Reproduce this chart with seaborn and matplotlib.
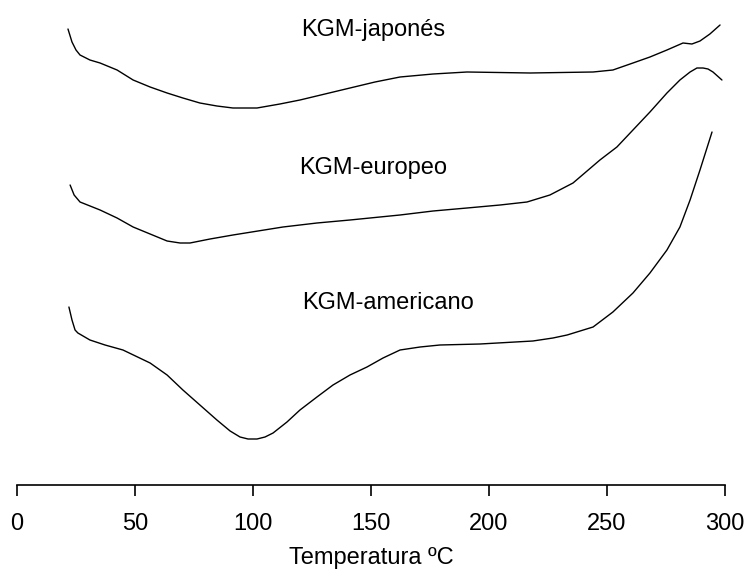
import matplotlib
matplotlib.use("Agg")
import matplotlib.pyplot as plt
import seaborn as sns
import pandas as pd

# Temperatura (ºC) and signal (arbitrary units, height above baseline)
temp_japones = [21.6, 23.3, 25.0, 26.7, 30.9, 35.2, 42.4, 49.2, 56.4, 63.6, 70.3, 77.5,
                84.7, 91.5, 101.7, 111.4, 119.9, 130.5, 141.1, 151.7, 162.3, 176.3,
                190.7, 217.4, 244.1, 252.5, 261.0, 268.2, 275.4, 282.2, 286.0, 289.4,
                293.6, 297.9]
sig_japones = [456, 443, 435, 430, 425, 422, 415, 405, 398, 392, 387, 382,
               379, 377, 377, 381, 385, 391, 397, 403, 408, 411,
               413, 412, 413, 415, 422, 428, 435, 442, 441, 444,
               451, 460]

temp_europeo = [22.5, 24.2, 26.7, 35.2, 42.4, 49.2, 56.4, 63.6, 69.1, 73.3, 81.8, 91.5,
                102.1, 112.7, 127.1, 141.1, 162.3, 176.3, 190.7, 204.7, 216.1, 225.8,
                235.6, 247.0, 254.2, 261.0, 268.2, 275.4, 280.9, 285.2, 288.1, 290.7,
                292.8, 294.9, 298.7]
sig_europeo = [300, 290, 283, 275, 267, 258, 251, 244, 242, 242, 246, 250,
               254, 258, 262, 265, 270, 274, 277, 280, 283, 290,
               302, 325, 338, 355, 373, 392, 405, 413, 417, 417,
               416, 413, 405]

temp_americano = [22.0, 23.3, 24.6, 25.8, 30.9, 37.3, 44.9, 56.4, 63.6, 70.3, 77.5, 84.7,
                  90.3, 94.5, 97.9, 101.7, 105.1, 108.5, 114.4, 119.9, 127.1, 133.9,
                  141.1, 148.3, 155.1, 162.3, 170.8, 179.2, 196.2, 218.6, 227.1, 233.1,
                  238.6, 244.1, 252.5, 261.0, 268.2, 275.4, 280.9, 285.2, 289.4, 294.5]
sig_americano = [178, 165, 155, 152, 145, 140, 135, 122, 110, 95, 80, 65,
                 54, 48, 46, 46, 48, 52, 63, 75, 88, 100,
                 110, 118, 127, 135, 138, 140, 141, 144, 147, 150,
                 154, 158, 173, 192, 212, 235, 258, 285, 315, 353]

labels = ["KGM-japonés", "KGM-europeo", "KGM-americano"]

sns.set_style("white")
plt.rcParams['font.family'] = ['Liberation Sans', 'DejaVu Sans']
plt.rcParams['text.color'] = 'black'
plt.rcParams['xtick.color'] = 'black'
plt.rcParams['axes.labelcolor'] = 'black'

fig = plt.figure(figsize=(7.46, 5.72), dpi=100)
ax = fig.add_axes([17/746, 87/572, 708/746, 485/572])

for t, s in [(temp_japones, sig_japones), (temp_europeo, sig_europeo),
             (temp_americano, sig_americano)]:
    df = pd.DataFrame({"T": t, "S": s})
    sns.lineplot(data=df, x="T", y="S", ax=ax, color="black", linewidth=1.0,
                 estimator=None, sort=False)

fs = 17
ax.text(151, 455, labels[0], ha="center", va="center", fontsize=fs, color="black")
ax.text(151, 317, labels[1], ha="center", va="center", fontsize=fs, color="black")
ax.text(157, 182, labels[2], ha="center", va="center", fontsize=fs, color="black")

ax.set_xlim(0, 300)
ax.set_ylim(0, 485)
ax.set_xticks([0, 50, 100, 150, 200, 250, 300])
ax.set_yticks([])
ax.set_ylabel("")
ax.set_xlabel("Temperatura ºC", fontsize=fs, labelpad=9, color="black")
ax.tick_params(axis="x", direction="out", length=8, width=1.2, labelsize=fs,
               pad=12, bottom=True, colors="black")
for side in ["top", "right", "left"]:
    ax.spines[side].set_visible(False)
ax.spines["bottom"].set_linewidth(1.2)
ax.spines["bottom"].set_color("black")
ax.patch.set_alpha(0)

fig.savefig("out.png", dpi=100)
